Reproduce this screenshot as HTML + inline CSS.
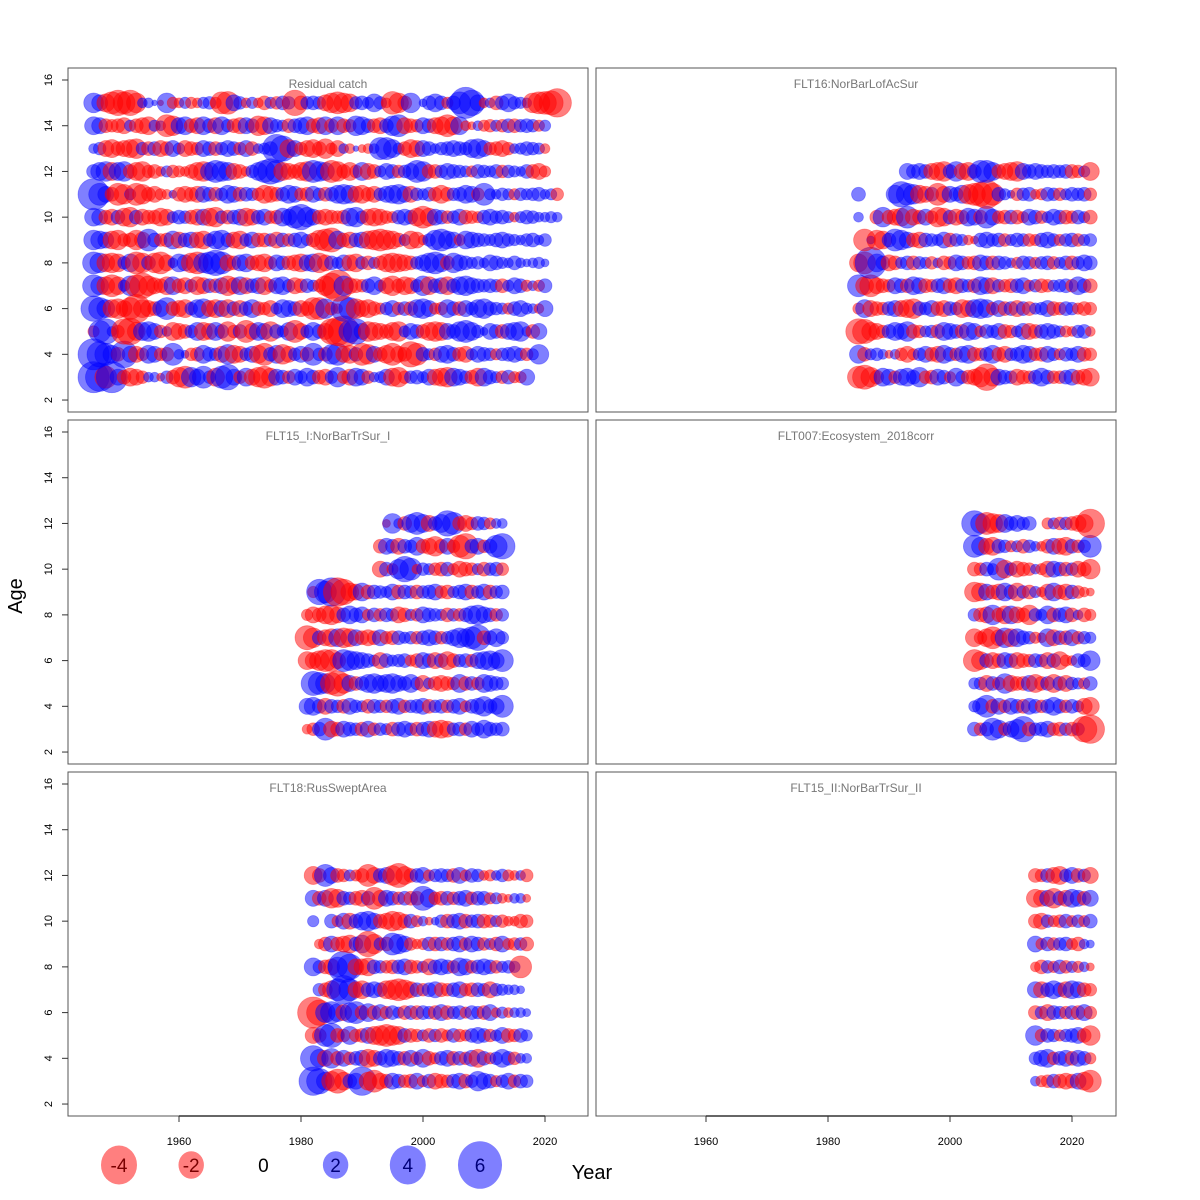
<!DOCTYPE html>
<html><head><meta charset="utf-8"><style>
html,body{margin:0;padding:0;background:#fff;}
svg{display:block;font-family:"Liberation Sans",sans-serif;}
</style></head><body>
<svg id="chart" width="1200" height="1200" viewBox="0 0 1200 1200">
<g id="panels"></g>
<g id="marks"></g>
<text x="22" y="596" font-size="20" text-anchor="middle" transform="rotate(-90 22 596)">Age</text>
<text x="592" y="1179" font-size="20" text-anchor="middle">Year</text>
<g id="legend"></g>
</svg>
<script>
// ---- data ----
const panelTitles = ["Residual catch","FLT16:NorBarLofAcSur","FLT15_I:NorBarTrSur_I","FLT007:Ecosystem_2018corr","FLT18:RusSweptArea","FLT15_II:NorBarTrSur_II"];
const yTicks = [2,4,6,8,10,12,14,16];
const xTicks = [1960,1980,2000,2020];
const legendValues = [-4,-2,0,2,4,6];

// each row: [age, firstYear, values...]
const catchRows = [
[3,1946, 3,2.5,-1.5,3,.8,-.6,-1,-.8,-.5,.3,.3,-.2,.5,-.6,-1.2,-1.5,1.2,.8,1.5,.5,-1,1.5,2,.8,-.5,1,-.8,-1.2,-1.5,-1,.8,.6,-.5,.8,.5,1,.6,-.6,-.8,.5,1.2,-.5,-.8,1,.8,-.5,.3,.4,.8,-1,-1.2,-.5,.5,.6,.4,.8,-.8,-1,-1.2,1,.8,.5,-.6,-1,1,.6,.4,-.5,.6,-.4,-.4,.8],
[4,1946, 3,2,1.5,1,-.6,2.2,.8,-.8,-.5,1,.8,-.5,-.6,1.5,.3,.2,-.5,-.6,1,.6,.5,-.8,1.2,-1,-.8,.5,.8,-1,-1.5,.6,1,-1.2,-.8,.5,.8,-.6,1.5,.5,-.6,1.2,1.5,-.8,-1,.6,-1.5,-1.2,.8,-.6,-1,-1.5,-.8,-.6,-2,-1.5,.6,.4,-.5,.8,1,.6,-.6,-.8,.4,.8,.6,.5,-.4,.5,.6,.8,.5,-.5,.4,1.2],
[5,1946, -.4,1.5,2,.3,-.5,-2,-2.2,-1,1,1.2,.8,-.5,.3,-1,-.8,-.6,.5,1,-1,-.8,1,.6,-1.2,-.5,.6,-1.5,-.8,1,.8,-1.2,.6,.4,1,-1.5,-.8,.5,1,.6,-.8,-2,-2.5,-3,1.5,2,.8,-1.2,-1,-.8,-.6,-1,-1.2,.4,.8,.6,-.6,-1,-1.2,-1,.8,.6,1.2,1.5,1,.5,.2,.8,.6,-.6,.8,1,1.2,.3,-.6,.8],
[6,1946, 2,1.5,1,-1,-1.2,-.8,-1.5,-2.5,-1,-.8,-.6,.8,1.5,-.6,-.8,-1,.5,1,1.2,-.8,-1,.8,-1,.6,-.8,.6,1,-.6,-.5,-.8,.4,1,.8,.6,-.8,-.6,-1.5,-1.5,1.2,-.5,-.3,2,1.5,-1.2,-.8,-1,-.6,-.4,.5,.8,-.5,.6,-.6,1,1.2,.8,-.4,-.5,1,.6,-.6,.8,.5,1,1.2,.6,.5,.4,-.4,.6,.8,.4,.3,-.3,.8],
[7,1946, 1.5,1,-1,-1.5,-1,.4,1.2,-1.5,-2,-1.2,-.8,-.6,-1,1,-.6,-.8,.5,-1,-.8,.6,-.6,.8,-1.2,-.8,1,-.8,.6,.8,-1,-.5,.8,1,.5,-.8,-.6,.6,.4,-.5,-1.2,-2,-3,1.2,-.8,-.6,-.5,.6,1,.4,-.8,-1.2,-.6,-1,-.8,.5,1.2,-1,.6,.8,-1,.6,1,1.2,.8,.6,.5,.6,.5,-.6,.4,.8,.6,-.4,.3,-.4,.6],
[8,1946, 1.5,1.2,-1,-1.2,-1,.5,1,-1.5,-1.2,.6,-1.2,-1.5,-.8,.3,1,.8,-1.2,-1.5,1.2,1.5,2,1.5,-.8,-.6,.8,1,-.6,-.8,-1,-.5,.8,.6,-.6,-.8,-1,.8,1,-1.2,-.8,.6,.4,.8,-.8,-1,.5,-.6,.4,-.6,-1,-1.2,-1,-.8,-.6,.5,.8,1.2,1.5,1,-.6,1.2,.8,.6,.4,.5,.3,.8,.6,.4,.3,.6,.3,.2,.3,.4,.2],
[9,1946, 1.2,1,.8,-1,-1.2,-.5,-.6,-1.2,-.8,1.5,.6,-.5,-.6,1,-.8,.6,.8,-.8,-1,.5,1,1.2,.6,-.8,-1,.5,.8,-.6,-.6,.5,-.8,.6,-.5,.6,.8,.4,-.6,-1.2,-1.5,-1.8,1,-.6,-.8,.6,.8,-1,-1.2,-1.5,-1.2,-1,-.6,.4,-1,-.8,-.3,.5,1.2,1.5,1,.8,-.4,1,.8,.6,.5,.4,.6,.8,.5,.4,.3,.5,.6,.3,.5],
[10,1946, 1,.8,-.6,-.8,.6,-1,-1.2,.6,-.8,-.6,-.6,-1,-.8,.4,.6,.5,-.6,-.8,.8,-1,-1.2,.5,-.6,.6,.8,-1,-.8,.6,.8,-.5,-.6,1,.8,1.5,2,1.2,.8,-.6,-.8,-.6,-.5,-.6,1,1.2,.5,-.8,-1,-.8,-.5,-.4,.6,.8,.6,-1,-1.5,-1,.8,.6,-.5,.5,.8,-.6,-.5,-.4,.6,.8,.5,.6,.4,-.3,.4,.6,.5,.3,.3,.4,.3],
[11,1946, 3,1.5,.8,-.6,-1.5,-1.2,.4,-1.5,-1.2,-.6,-.8,-.4,-.3,.2,-.6,-.8,-.6,-.8,.8,.6,-.6,.5,1,.8,-.6,.6,.5,-.5,-1,-.8,-.6,.6,1,.8,-.5,-.6,.8,.5,-.6,.6,1,1.2,1,-.8,-1,-.6,-.8,.5,.8,1,1.2,.8,-.8,.5,.4,.6,-.6,-1,-.6,.5,.6,1,.8,-.5,1.5,.4,.3,.5,.4,-.4,.5,.4,.5,.6,.3,.4,-.5],
[12,1946, .6,1,1.2,-1,1,1.2,-.6,-1,-1.2,-.5,-.6,-.3,.4,-.5,-.4,-.3,-.6,-1,-1.2,1,1.5,1.2,1,-.8,-.6,-.3,.5,1,1.5,2,1.5,-1,-.8,-.6,-1,-1.2,1.5,1.2,1,-1.5,-1.2,-.6,-1,-.5,1,-.8,-.6,.4,.8,.6,-.5,.5,.8,1.5,1.2,-.6,-.6,.5,.8,.6,.5,.4,-.4,.6,.5,.4,.6,-.5,.5,.4,.3,.6,-.6,-.8,-.4],
[13,1946, .3,.5,-.8,-1,-.6,-.8,-1,-1.2,.5,-.6,.6,-.8,-.6,.8,.4,-.8,-.6,-.5,.8,.6,-.6,.5,.8,.6,-.5,.8,-.6,.3,.4,.6,2.5,2,-1,.8,-.5,-.8,-1,-.6,-1.2,-.4,-.8,.3,-.3,.1,-.2,-.3,.3,1.5,1.5,1,.4,-.6,-1,-.8,.8,.6,.3,.5,.6,.8,.6,.5,1,1.2,.8,-.5,-.6,-.8,-.5,.3,.4,.6,.5,.4,-.3],
[14,1946, 1,.8,-.6,-.5,-.6,-.8,.4,-.6,-.8,-1,.4,.3,-1.5,-1.2,.8,1,-.6,-.8,1,.6,-.8,1,.5,-.6,-.8,.8,.6,-1.2,-1,.8,.5,.4,-.6,.6,.8,1,-.6,-.8,1,-.6,1,-.6,-.5,1.2,1,.6,-.6,-.8,.6,1.2,1.5,-.8,-.6,-.5,.8,.6,-.8,-1,-1.5,-1,1,-.3,-.2,.3,-.4,-.5,.4,-.5,.6,-.6,.5,.6,.5,-.4,.4],
[15,1946, 1.2,.8,-1,-1.5,-2,-1.5,-2,-1.2,.3,.3,.1,-.1,1.2,-.4,-.3,.4,-.4,-.3,.4,.5,-.4,-1.5,-1.6,.8,.5,-.3,.4,-.3,-.6,.4,-.5,.6,.5,-2,-.6,.5,.6,.5,-.8,-1.2,-1.5,-1.2,-1,.5,.6,.4,1,.5,-.3,-1.6,-1.2,-.6,1.2,0,.2,.6,1,.6,-.4,.6,1.5,3,2,.8,-.3,.3,-.6,.6,1,.5,.4,.3,-1.2,-1.5,-1.6,-1.8,-2.5]
];
const flt16Rows = [
[3,1985, -1.5,-1.8,-1.2,-.6,1,.8,-.5,.8,1,.6,1.2,-.5,-.6,.8,.6,-.4,1,.5,-.6,-.8,-1.2,-2.2,-1,.8,.6,.5,-.8,-.6,-.5,.6,1,.6,-.5,-.5,.6,.8,-.6,-.8,-1],
[4,1985, 1,-.6,.4,.5,.3,-.2,.3,-.5,-.8,-.4,.5,.8,-.6,-.8,1,.6,-.5,.8,1,-.6,-.5,.6,1,-.6,-.8,.5,.6,1,.8,-.5,-.6,.8,.5,-.4,.6,.5,.8,-.6,-.5],
[5,1985, -2,-1.8,-1,-.8,-.5,.6,1,.8,1.2,-.6,-.5,.4,.5,-.6,1,.8,.6,-.6,1,.8,-.4,.6,.5,.8,-.6,-.5,.4,.8,-.8,-.6,.6,.8,.6,.4,-.4,-.3,.5,.6,-.3],
[6,1985, -.4,1,-.8,-.6,-.5,.6,.8,-.8,-1,-1.2,.6,.5,.8,-.6,-.8,.6,.5,-1,-.8,1,1.2,1,-.5,.8,-.6,.6,-.8,.6,-.6,.4,.5,.8,-.6,-.5,.6,.5,-.4,-.6,-.5],
[7,1985, 1.5,-1,-1.5,-.8,-.6,-.5,.8,.6,-.6,1,.8,-.6,-.5,.6,.8,-.6,-.8,.6,.5,-.6,1,.8,-.8,.5,-.5,-.6,.6,.8,-.4,.5,-.6,-.5,.4,.5,.6,-.5,1,.6,-.6],
[8,1985, -1,-1.5,3,1,.6,-.8,-.6,.4,.6,-.6,.5,.4,-.5,.3,-.6,-.5,.8,.6,-.5,-.6,.8,.6,-.6,.6,.5,.3,-.4,.6,.5,-.4,.5,.6,-.5,.4,.6,-.6,.5,.8,.6],
[9,1985, 0,-1.5,.2,-1.2,-1,.6,1.5,1.2,.8,-.6,-.8,.6,.5,.4,.8,-.6,.5,.4,-.3,-.2,.6,.8,.5,.6,-.5,.4,.6,.5,-.5,-.4,.6,.8,.5,-.4,.5,.6,-.5,.4,.5],
[10,1985, .3,0,0,-.6,1.2,-.6,-.8,-1,1.5,-.8,-.6,.8,-.5,-1.2,-1,.6,-.8,-.6,1,.8,-.6,1.5,.8,-.5,-.6,.6,-.6,-.4,.8,.6,-.5,.4,.8,.6,-.6,-.5,.6,.4,-.6],
[11,1985, .6,0,0,0,0,0,1,2,1.5,1.2,-1,-.8,.6,-1.5,-.8,.8,.6,1,-1.2,-1.5,-1.8,-2.5,-1.5,.6,.4,.2,-.5,.5,.6,-.3,-.4,.6,.5,-.5,.4,.6,.5,.6,-.5],
[12,1985, 0,0,0,0,0,0,0,0,.8,.6,.8,.6,-.8,-1,-1.2,.6,1.2,-.8,-1,.6,1.5,1.5,1,-.6,-.8,-1,-1.2,.8,.6,.8,.6,.5,.6,.5,.6,-.6,-.5,.4,-1]
];
const flt15iRows = [
[3,1981, -.3,-.5,.6,1.5,-.8,-.6,.8,.6,.5,-.6,.8,-.5,.5,.4,-.6,.6,.8,.5,-.6,.6,.8,-.8,-1,-.8,.5,.6,-.5,.8,.5,1,.6,.5,.6],
[4,1981, .8,1,.6,-.8,.6,.5,-.6,.8,.5,.4,-.6,.6,.5,-.5,.6,.8,-.5,.5,.6,.8,-.6,.5,.6,-.5,.6,.8,-.4,.6,.8,1.2,.6,.8,1.5],
[5,1981, 0,1.8,1.5,1.2,-1.5,-2,-1.2,.8,-.6,.6,1,1.2,.8,1,1.2,.8,.6,1,.5,-.8,.4,-.6,-.8,-.6,-.5,1,-.6,.6,-.5,1,.8,.6,.5],
[6,1981, -1,-.8,-1.2,-1.5,-1.5,-.8,1.5,1.2,1,.8,.6,.4,-.8,.6,.4,.5,.6,-.4,-.6,.8,.6,-.8,.6,-1,-.6,.5,.6,-.5,.8,1,1.2,.8,1.5],
[7,1981, -1.8,-1.2,.6,-.8,-1,1,-1.2,-1,.8,-.6,-.8,-.6,.8,-.5,-.6,.6,.4,.5,-.5,.6,.8,.6,-.5,.5,.8,1.2,1,1.5,2,-.6,.6,1,.5],
[8,1981, -.4,-.8,-.6,-1,-1.2,-.8,.6,1,.6,.8,-.4,.6,-.5,.6,.5,-.8,-.6,.4,-.5,.8,.6,.5,.4,-.6,.5,-.5,.6,1,1.2,.8,.6,-.5,.5],
[9,1981, 0,-.4,2,1.5,2.5,-2.5,-2,-1,-.8,1,-.6,.6,.5,.4,.8,-.6,.6,.5,-.6,.5,.6,.8,-.5,-.6,.4,.6,.8,-.6,.5,.8,-.6,.5,.6],
[10,1981, 0,0,0,0,0,0,0,0,0,0,0,0,-.8,.6,-.4,1.2,2,1.5,-.3,.5,.4,-.5,-.6,.6,-.4,-.8,-.6,-.5,.4,-.6,.5,.6,-.5],
[11,1981, 0,0,0,0,0,0,0,0,0,0,0,0,-.6,.8,.6,-.8,.6,.5,1,-.6,-.8,-1.2,-.6,.8,-.5,-1.5,-2,.6,.8,-.5,.6,1.5,2],
[12,1981, 0,0,0,0,0,0,0,0,0,0,0,0,0,-.2,1.2,.3,-.6,1,1.5,1,-.8,.6,1,2,1.5,-.6,-.8,-.5,.6,.5,-.4,.3,.3]
];
const flt007Rows = [
[3,2004, .6,-.5,.6,1.5,1,-.5,.8,1.2,2,-.6,.5,.6,.8,-.5,-.6,.5,-.6,.5,-2,-2.5],
[4,2004, .4,.8,1.5,-.6,.8,-.5,.8,.6,-.6,.8,.6,-.5,.6,1,.6,-.5,.6,.4,-.8,-1],
[5,2004, .4,.5,-.8,.6,-.5,1.2,-.8,-.6,-.6,.8,-1,-.6,.6,-1,.6,-.8,.5,.4,-.4,.6],
[6,2004, -1.5,-1,.6,-.8,-.6,.8,.6,-.8,-.6,-.5,.6,.5,-.8,.6,-1,-.4,-.3,.6,.5,1.2],
[7,2004, -1,-.5,-1,-1.5,-.8,1.2,-1,1,.6,.5,-.4,-.3,1,-.8,.6,-.6,.8,-.5,.5,.4],
[8,2004, .5,-.6,-.8,1.2,-.6,-1,1,-.8,-.6,-1.2,.5,.4,1,-.6,.6,.8,-.6,.3,-.6,-.4],
[9,2004, -1.2,-1,.8,-.6,-.8,1,.6,-1,.5,-.6,.4,-.3,-.8,1,-.6,-.8,.6,-.5,-.3,-.2],
[10,2004, -.6,-.5,.6,.4,1.5,-1,.5,-.8,-.6,-.5,.3,-.4,-.8,.8,.6,-.6,.5,-.8,-.6,-1.2],
[11,2004, 1.5,1,-.8,-1,.6,.5,-.4,.4,-.6,.5,.3,-.3,-.6,.8,-.8,-1,.6,-.5,.5,1.5],
[12,2004, 2,1.2,-1.5,-1.2,-1,1,.6,.8,.5,.6,0,0,-.4,.4,-.5,.5,-.6,-.8,-1,-2.5]
];
const flt18Rows = [
[3,1982, 2.5,2,1,-1.2,-1.8,-1,.6,.8,2.5,-1,-1.5,-.8,-.6,.8,.6,-.5,-.6,.8,-.4,.6,-.8,-.6,-.5,.6,.8,-.6,.5,1.2,.8,.6,-.4,.5,.8,-.5,.6,.5],
[4,1982, 2,1,-.8,1.2,-.6,.8,-.5,.6,.8,-1,-.8,.6,1,.8,.6,-.6,.8,-.5,1,-.6,-.4,.6,.8,-.6,.6,-.5,.8,-1,.6,-.4,.5,1,.6,-.5,.3,.3],
[5,1982, -.8,-.6,1.5,1.8,-.6,-.5,1,-.5,-.6,.8,-1,-1.2,-1.5,-1.2,-1,.6,-.6,-.5,.4,-.6,.5,-.6,-.4,.6,-.5,-.4,.6,.8,.6,-.5,.4,.8,-.6,-.5,.6,.4],
[6,1982, -3,-2,1.2,1.5,1,-.8,1.2,1.5,-.6,1,-.6,.8,-.5,.6,.4,-.6,.6,-.6,.6,.5,-.6,.8,-.6,.5,.6,-.4,.6,.5,-.6,.8,-.3,.4,-.3,.3,.3,.2],
[7,1982, 0,.5,-.6,-1,1.5,2.5,1.5,-.8,-1,.6,.8,.6,-1,-1.2,-1.5,-1.2,-.8,.6,-.5,.6,.8,-.6,-.5,.6,.8,-.5,-.6,.6,.5,-.8,.5,.4,.3,.3,.2],
[8,1982, 1,.5,-.6,-.8,1.2,3,2,-.8,-.8,-1,.6,.5,-.5,-.6,.6,.8,-.6,-.5,.4,-.8,.6,.8,.6,-.5,1,.8,-.5,.6,.8,.6,-.5,.4,.5,.4,-1.5],
[9,1982, 0,-.3,-.6,.8,-.6,-.8,-1,.6,1,-2,-1.2,.5,-.6,1.5,1.2,.8,-.5,-.3,-.4,.6,-.6,.6,-.5,.6,.8,-.5,.8,.6,-.5,.4,-.6,.8,-.4,-.5,.5,-.6],
[10,1982, .4,0,0,.6,-.4,.8,-.8,.6,1,1.2,.8,-.6,-.8,-1.2,-1,-.6,.6,-.4,.3,-.2,.2,.5,-.6,.6,.8,-.6,.5,.6,-.6,-.5,.4,-.5,-.3,-.3,-.6,-.5],
[11,1982, .8,-.6,.8,-1.2,-1,.6,.5,-.6,-.8,.6,-1.5,-.8,.8,.6,-.5,.6,-.6,-.6,1.8,1,-.5,-.6,.6,-.5,.6,.8,-.5,.6,.6,-.4,.4,-.3,-.2,.3,.3,-.2],
[12,1982, -1,-.6,1.5,.8,-.6,-.5,.4,-.4,-.6,-1.5,-.8,.6,.8,-1.2,-1.8,-1,-.6,.6,.8,-.4,.5,.6,.5,-.6,.8,-.4,.6,.5,-.3,-.4,.3,.5,-.4,-.3,.3,-.5]
];
const flt15iiRows = [
[3,2014, .3,-.4,-.5,.6,-.6,-.8,-.6,.8,-1,-1.5],
[4,2014, .5,.8,1,-.5,.6,.8,-.6,.8,.6,-.4],
[5,2014, 1.2,-.5,.6,.5,-.4,.5,.6,.8,-.6,-1.2],
[6,2014, -.6,.5,-.8,.6,.5,-.5,.6,-.6,.8,-.5],
[7,2014, .8,-.8,.6,1,.6,-.8,1,.8,-.6,-.5],
[8,2014, -.3,-.6,.5,-.4,.6,-.5,.4,-.4,.3,-.2],
[9,2014, .8,-.4,.6,-.5,.5,.6,-.4,-.6,.3,.2],
[10,2014, -.6,-.8,.5,-.4,-.5,.6,-.4,.5,-.4,.6],
[11,2014, -1,-.8,.8,-1.2,.6,-.8,1,.8,-.6,.8],
[12,2014, -.6,-.5,.6,-.8,-1,.5,.8,-.6,.5,-.8]
];
const panelRows = [catchRows, flt16Rows, flt15iRows, flt007Rows, flt18Rows, flt15iiRows];

// ---- layout / scales ----
const NS="http://www.w3.org/2000/svg";
const panelsG=document.getElementById('panels'), marksG=document.getElementById('marks'), legendG=document.getElementById('legend');
function mk(tag,attrs,parent){const e=document.createElementNS(NS,tag);for(const k in attrs)e.setAttribute(k,attrs[k]);parent.appendChild(e);return e;}
function panelBox(i){const col=i%2,row=Math.floor(i/2);return {x:col?596:68,y:68+row*352,w:520,h:344,col:col,row:row};}
function xScale(col,year){return 179+(year-1960)*6.1+(col?527:0);}
function yScale(row,age){return 68+row*352+12+(16-age)*22.86;}
function rScale(v){return 9*Math.sqrt(Math.abs(v));}

for(let i=0;i<6;i++){
  const b=panelBox(i);
  const rect=mk('rect',{x:b.x,y:b.y,width:b.w,height:b.h,fill:'none',stroke:'#555','stroke-width':1},panelsG);
  
  
  const t=mk('text',{x:b.x+b.w/2,y:b.y+20,'font-size':12,fill:'#777','text-anchor':'middle'},panelsG);
  t.textContent=panelTitles[i];
  
  
  if(b.col===0){
    yTicks.forEach(a=>{
      const y=yScale(b.row,a);
      const tk=mk('line',{x1:b.x-6,x2:b.x,y1:y,y2:y,stroke:'#333'},panelsG);
      
      
      const l=mk('text',{x:b.x-20,y:y,'font-size':11,'text-anchor':'middle',transform:`rotate(-90 ${b.x-20} ${y})`,dy:4},panelsG);
      l.textContent=a;
      
      
    });
  }
  if(b.row===2){
    const ax=mk('line',{x1:xScale(b.col,1960),x2:xScale(b.col,2020),y1:1116,y2:1116,stroke:'#333','stroke-width':1.5},panelsG);
    
    
    xTicks.forEach(yr=>{
      const x=xScale(b.col,yr);
      const tk=mk('line',{x1:x,x2:x,y1:1116,y2:1122,stroke:'#333'},panelsG);
      
      
      const l=mk('text',{x:x,y:1145,'font-size':11,'text-anchor':'middle'},panelsG);
      l.textContent=yr;
      
      
    });
  }
  panelRows[i].forEach(row=>{
    const age=row[0],y0=row[1];
    for(let k=2;k<row.length;k++){
      const v=row[k]; if(v===0) continue;
      const c=mk('circle',{cx:xScale(b.col,y0+k-2),cy:yScale(b.row,age),r:rScale(v),fill:v<0?'rgba(255,0,0,0.5)':'rgba(0,0,255,0.5)',stroke:v<0?'rgba(255,0,0,0.35)':'rgba(0,0,255,0.35)','stroke-width':0.8},marksG);
      
      
    }
  });
}
legendValues.forEach((v,i)=>{
  const x=119+i*72.2,y=1165;
  if(v!==0){
    const e=mk('ellipse',{cx:x,cy:y,rx:rScale(v),ry:rScale(v)*1.08,fill:v<0?'rgba(255,0,0,0.5)':'rgba(0,0,255,0.5)'},legendG);
    
    
  }
  const t=mk('text',{x:x,y:y+7,'font-size':19,'text-anchor':'middle',fill:v<0?'#7a0000':(v>0?'#00007a':'#000')},legendG);
  t.textContent=v;
  
  
});
</script>
</body></html>
